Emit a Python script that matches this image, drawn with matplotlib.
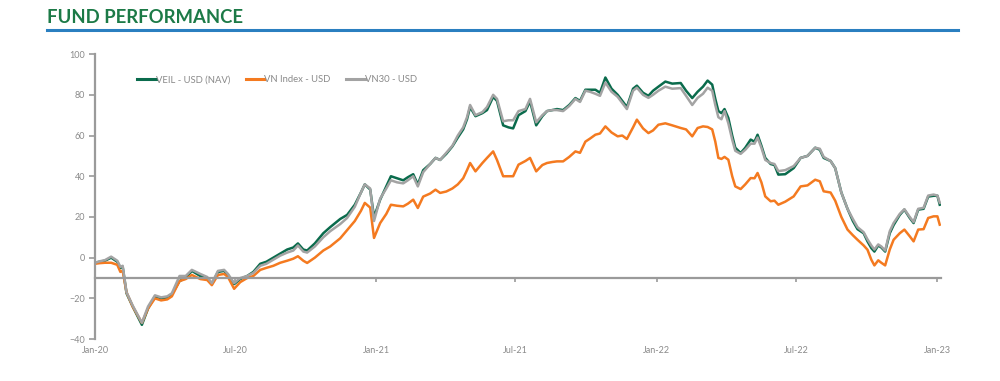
import matplotlib
matplotlib.use("Agg")
import matplotlib.pyplot as plt
import matplotlib.dates as mdates
import pandas as pd

dates = [
    "2020-01-01", "2020-01-07", "2020-01-14", "2020-01-22", "2020-01-30", "2020-02-03", "2020-02-06",
    "2020-02-11", "2020-02-19", "2020-03-02", "2020-03-10", "2020-03-19", "2020-03-27", "2020-04-04",
    "2020-04-10", "2020-04-20", "2020-04-28", "2020-05-06", "2020-05-17", "2020-05-26", "2020-06-01",
    "2020-06-09", "2020-06-17", "2020-06-22", "2020-06-30", "2020-07-08", "2020-07-17", "2020-07-25",
    "2020-08-03", "2020-08-11", "2020-08-20", "2020-08-29", "2020-09-07", "2020-09-15", "2020-09-21",
    "2020-09-28", "2020-10-03", "2020-10-13", "2020-10-24", "2020-11-02", "2020-11-15", "2020-11-24",
    "2020-12-04", "2020-12-12", "2020-12-17", "2020-12-24", "2020-12-29", "2021-01-06", "2021-01-14",
    "2021-01-20", "2021-01-28", "2021-02-05", "2021-02-11", "2021-02-18", "2021-02-24", "2021-03-03",
    "2021-03-12", "2021-03-19", "2021-03-25", "2021-04-02", "2021-04-10", "2021-04-17", "2021-04-24",
    "2021-04-29", "2021-05-03", "2021-05-10", "2021-05-19", "2021-05-25", "2021-06-02", "2021-06-07",
    "2021-06-15", "2021-06-22", "2021-06-28", "2021-07-05", "2021-07-14", "2021-07-20", "2021-07-28",
    "2021-08-05", "2021-08-11", "2021-08-18", "2021-08-24", "2021-09-01", "2021-09-09", "2021-09-17",
    "2021-09-23", "2021-09-30", "2021-10-06", "2021-10-13", "2021-10-19", "2021-10-26", "2021-11-03",
    "2021-11-11", "2021-11-17", "2021-11-23", "2021-12-01", "2021-12-06", "2021-12-14", "2021-12-21",
    "2021-12-27", "2022-01-03", "2022-01-12", "2022-01-21", "2022-02-01", "2022-02-08", "2022-02-16",
    "2022-02-23", "2022-03-02", "2022-03-08", "2022-03-14", "2022-03-18", "2022-03-22", "2022-03-26",
    "2022-03-30", "2022-04-04", "2022-04-09", "2022-04-13", "2022-04-20", "2022-04-26", "2022-05-03",
    "2022-05-08", "2022-05-12", "2022-05-17", "2022-05-22", "2022-05-29", "2022-06-03", "2022-06-08",
    "2022-06-17", "2022-06-28", "2022-07-07", "2022-07-16", "2022-07-26", "2022-08-01", "2022-08-06",
    "2022-08-15", "2022-08-21", "2022-08-29", "2022-09-06", "2022-09-13", "2022-09-19", "2022-09-27",
    "2022-10-02", "2022-10-07", "2022-10-11", "2022-10-16", "2022-10-20", "2022-10-25", "2022-10-31",
    "2022-11-05", "2022-11-13", "2022-11-19", "2022-11-26", "2022-12-01", "2022-12-07", "2022-12-14",
    "2022-12-20", "2022-12-27", "2023-01-01", "2023-01-04",
]

veil = [
    -2.5, -2, -1.5, 0, -2, -5, -4.5,
    -17.5, -24, -33, -25, -19, -20, -19.5,
    -18, -11.5, -10, -6.5, -9, -10, -13,
    -7, -6.5, -8.5, -13, -10.5, -9, -7,
    -3, -2, 0, 2, 4, 5, 7,
    4, 3.5, 7, 12, 15, 19, 21,
    26, 32, 36, 33.5, 20, 28.5, 35,
    40, 39, 38, 39.5, 41, 36, 43,
    46, 49, 48, 51, 54.7, 59, 63,
    68, 74, 69.5, 71, 72.5, 79, 77,
    65, 64, 63.5, 70, 72, 76.8, 65,
    69.5, 72, 72.5, 73, 72.5, 75, 78.4,
    77, 82.5, 82.5, 82.5, 81, 88.5, 83,
    80, 77, 74, 83, 84.5, 81, 79.5,
    82, 84, 86.5, 85.5, 85.8, 82, 78.4,
    81.5, 84, 87, 85, 78, 72, 71,
    73, 68.6, 60, 54, 51.4, 54, 58,
    57, 60.4, 55, 49, 46, 45.5, 40.8,
    41, 44, 49, 50, 54, 53, 49,
    47.5, 44, 32, 24, 18, 14, 12,
    8, 4.7, 3, 6, 5, 3, 12,
    16, 21, 23.6, 19.5, 17, 23.6, 24,
    30, 30.4, 30.4, 26,
]

vn_index = [
    -3, -2.7, -2.5, -2.5, -3.5, -7, -6.5,
    -17, -24, -32, -25, -20, -21, -20.5,
    -19, -11.5, -10.5, -8.5, -10.5, -11, -13.5,
    -8.5, -8, -9.5, -15.3, -12, -10, -9,
    -6, -5, -4, -2.5, -1.5, -0.5, 0.7,
    -1.5, -2.6, 0, 3.5, 5.5, 9.5, 13.5,
    18, 23, 26.9, 24.6, 9.7, 17, 21.5,
    26, 25.5, 25.2, 26.5, 28.5, 24.4, 30,
    31.5, 33.4, 31.8, 32.5, 34, 36, 39,
    43, 46.5, 42.4, 46.5, 49, 52.2, 48,
    40, 40, 40, 45.7, 47.5, 49, 42.4,
    45.5, 46.5, 47, 47.3, 47.3, 49.5, 52.2,
    51.5, 57, 58.5, 60.4, 61, 64.5, 61.5,
    59.6, 60, 58.3, 64, 67.8, 63.5, 61.2,
    62.5, 65.3, 66, 65, 63.7, 63, 59.6,
    63.7, 64.5, 64.2, 63, 57, 49, 48.5,
    49.5, 48.1, 40, 35, 33.7, 36, 39.1,
    39, 41.6, 37, 30.1, 27.7, 28, 26,
    27.5, 30.1, 35, 35.5, 38.3, 37.5, 32.6,
    32, 28, 20, 13.8, 11, 8.8, 6,
    3.9, -1, -3.8, -1.3, -2.5, -3.8, 4,
    8.8, 12, 13.8, 10.5, 8, 13.8, 14,
    19.5, 20.3, 20.3, 16.2,
]

vn30 = [
    -2.5, -1.8, -1.2, 0.5, -1.5, -4.5, -4,
    -17, -23.5, -32, -24, -18.5, -19.5, -19,
    -17.5, -9, -9, -6, -8, -9.5, -12.5,
    -6.5, -6, -8, -12.5, -10, -9, -7.5,
    -4, -3, -1, 1, 2.5, 3.5, 6,
    3, 2.5, 5.5, 10, 13, 16.5, 19.5,
    25, 32, 36, 34, 18, 29, 34,
    38, 37, 36.5, 38, 40, 35, 42,
    46, 49, 48, 51.5, 55, 60, 64,
    69, 75, 70, 71.5, 74, 80, 78,
    67, 67.5, 67.5, 72, 73, 78, 66.5,
    70, 72, 72.5, 72.5, 72, 74.5, 78,
    76.5, 82, 81.5, 80.5, 79.5, 86, 81.5,
    79, 76, 73, 82, 83.5, 80, 78.5,
    80, 82, 84, 83, 83.3, 79.5, 75,
    78.5, 80.5, 83.5, 82, 75, 69, 68,
    72, 66, 58, 52.5, 51, 53, 56,
    56, 59, 54, 48, 46.5, 46, 42.5,
    43, 45, 49, 50, 54, 53.5, 49.5,
    47.5, 44, 32, 24, 19, 15, 12.5,
    9, 6, 4, 6.5, 5.5, 3.5, 13,
    17, 21.5, 23.8, 20, 17.5, 24, 24.5,
    30.5, 31, 30.5, 27,
]

series_names = ["VEIL - USD (NAV)", "VN Index - USD", "VN30 - USD"]
y_ticks = [-40, -20, 0, 20, 40, 60, 80, 100]
x_ticks = ["2020-01-01", "2020-07-01", "2021-01-01", "2021-07-01", "2022-01-01", "2022-07-01", "2023-01-01"]

GREEN = "#0a6b4c"
ORANGE = "#f47a20"
GREY = "#a3a3a3"
AXIS = "#9a9a9a"
TXT = "#8a8a8a"

plt.rcParams['font.family'] = ['Lato', 'DejaVu Sans']

fig = plt.figure(figsize=(10, 3.81), dpi=100)
fig.patch.set_facecolor("white")

fig.text(0.047, 0.976, "FUND PERFORMANCE", color="#1c7a47", fontsize=13.3,
         fontweight="bold", va="top", ha="left")
fig.add_artist(plt.Line2D([0.047, 0.958], [0.921, 0.921], color="#2a7fc0", lw=2.2,
                          transform=fig.transFigure))

ax = fig.add_axes([0.095, 0.110, 0.8455, 0.748])
d = pd.to_datetime(dates)
ax.plot(d, veil, color=GREEN, lw=1.8, label=series_names[0], solid_joinstyle="round")
ax.plot(d, vn_index, color=ORANGE, lw=1.8, label=series_names[1], solid_joinstyle="round")
ax.plot(d, vn30, color=GREY, lw=1.8, label=series_names[2], solid_joinstyle="round")

ax.set_xlim(pd.Timestamp("2020-01-01"), pd.Timestamp("2023-01-05"))
ax.set_ylim(-40, 100)
ax.set_yticks(y_ticks)
ax.set_xticks(pd.to_datetime(x_ticks))
ax.xaxis.set_major_formatter(mdates.DateFormatter("%b-%y"))

for s in ["top", "right"]:
    ax.spines[s].set_visible(False)
ax.spines["left"].set_color(AXIS)
ax.spines["left"].set_linewidth(1.6)
ax.spines["bottom"].set_position(("data", -10))
ax.spines["bottom"].set_color(AXIS)
ax.spines["bottom"].set_linewidth(1.6)

ax.tick_params(axis="y", colors=AXIS, labelcolor=TXT, labelsize=6.5, length=4, width=1.2, pad=3)
ax.tick_params(axis="x", colors=AXIS, labelcolor=TXT, labelsize=6.5, length=3, width=1.2, pad=46)

leg = ax.legend(loc="upper left", bbox_to_anchor=(0.04, 0.955), ncol=3, frameon=False,
                fontsize=6.8, handlelength=2.0, handletextpad=0.0, columnspacing=1.6,
                labelcolor=TXT)
for line in leg.get_lines():
    line.set_linewidth(2.2)

fig.savefig("out.png", dpi=100, facecolor="white")
